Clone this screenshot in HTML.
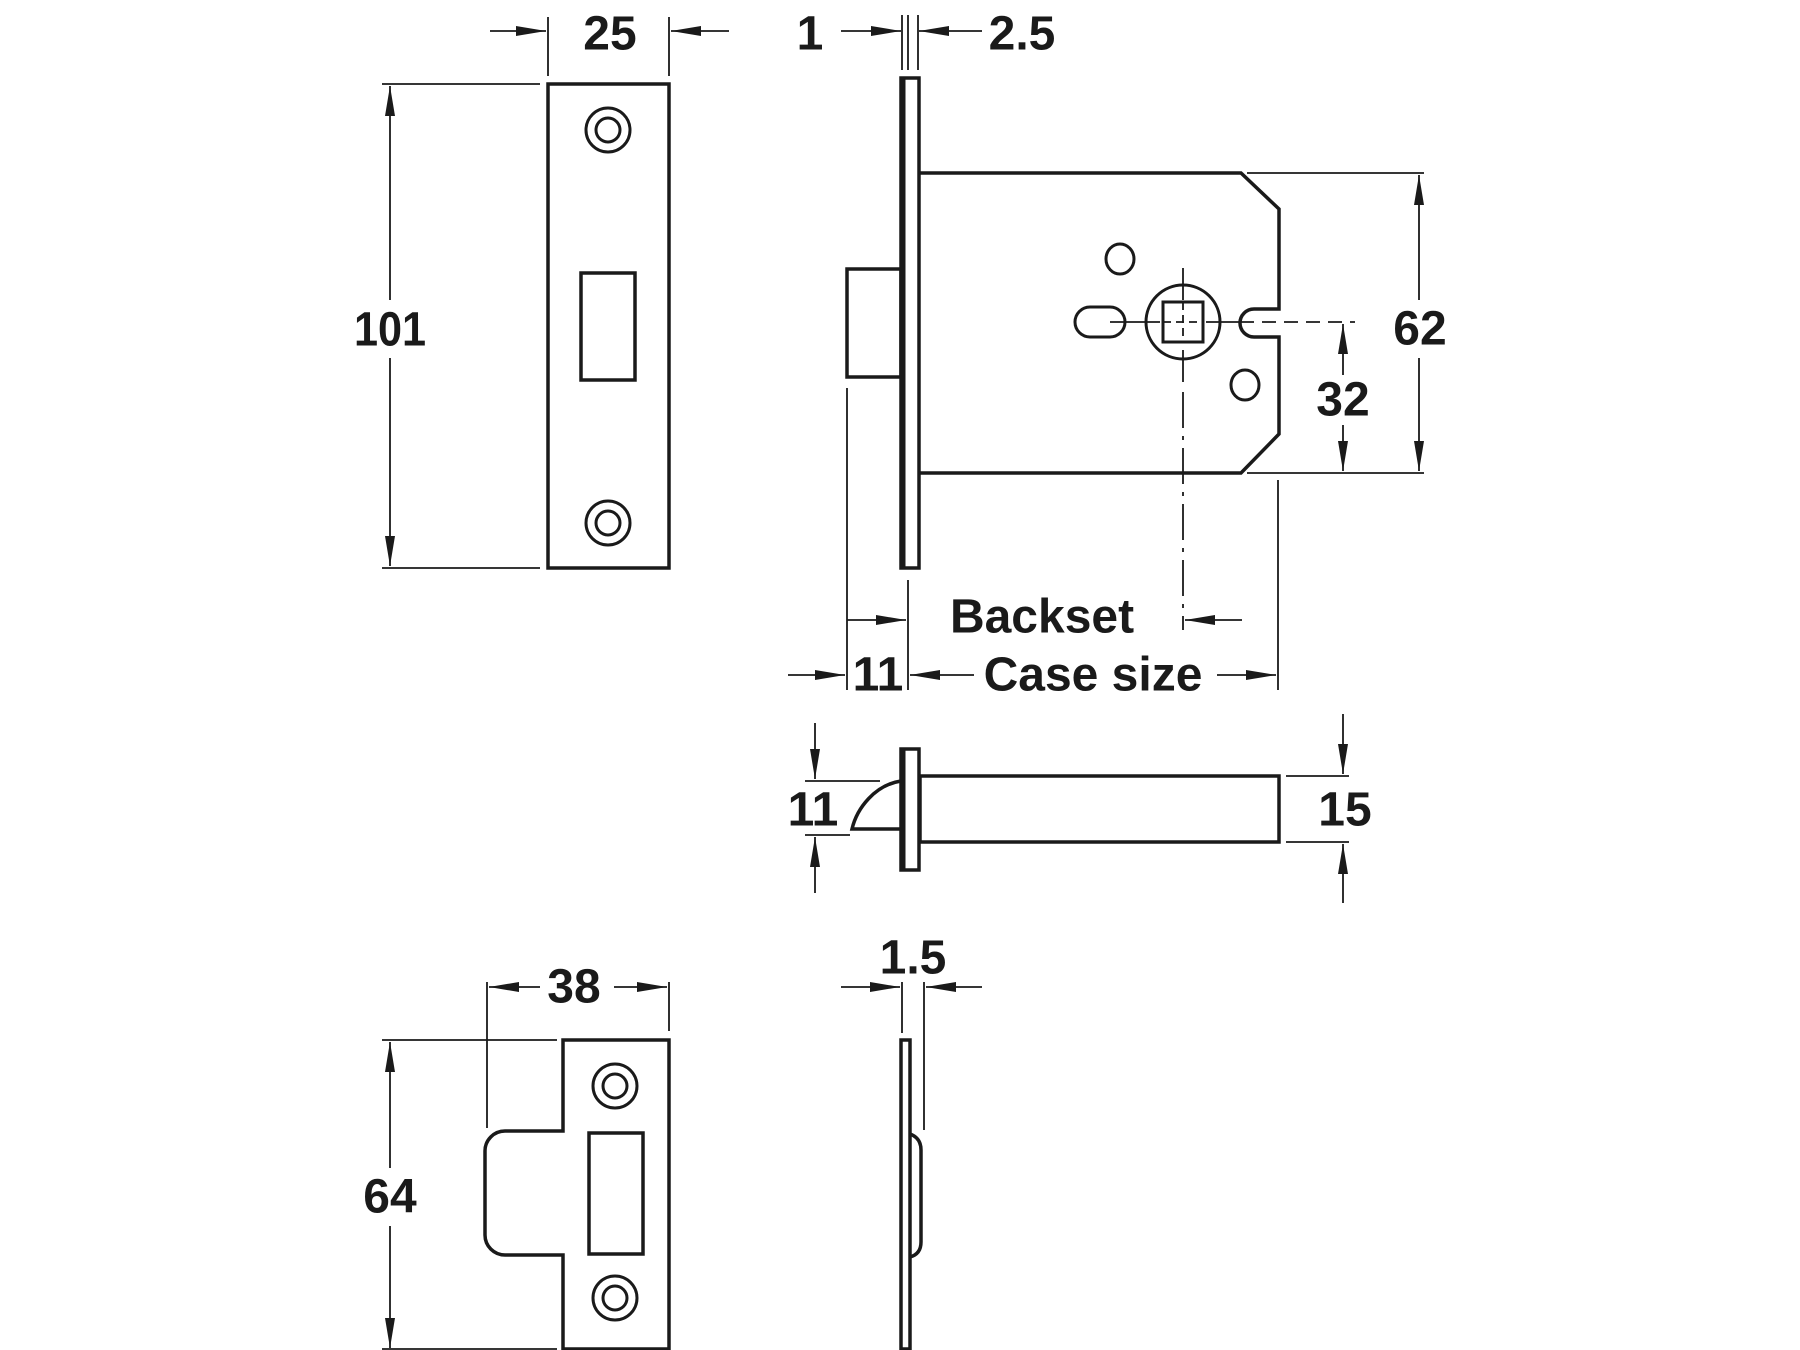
<!DOCTYPE html>
<html><head><meta charset="utf-8"><style>
html,body{margin:0;padding:0;background:#fff;}
svg{display:block;}
text{font-family:"Liberation Sans",Arial,sans-serif;font-weight:bold;fill:#1a1a1a;}
</style></head><body>
<svg width="1800" height="1350" viewBox="0 0 1800 1350" xmlns="http://www.w3.org/2000/svg">
<defs>
<marker id="a" markerUnits="userSpaceOnUse" markerWidth="32" markerHeight="12" refX="30" refY="5" orient="auto">
<path d="M0,0 L30,5 L0,10 z" fill="#1a1a1a"/>
</marker>
</defs>
<g fill="none" stroke="#1a1a1a" stroke-width="3.5" stroke-linejoin="miter">
<!-- strike plate 1 -->
<rect x="548" y="84" width="121" height="484"/>
<rect x="581" y="273" width="54" height="107"/>
<!-- faceplate side -->
<rect x="901" y="78" width="18" height="490"/>
<line x1="903" y1="78" x2="903" y2="568" stroke-width="5"/>
<!-- bolt -->
<rect x="847" y="269" width="54" height="108"/>
<!-- case -->
<path d="M920,173 H1241 L1279,209 V309 H1254 A14,14 0 0 0 1254,337 H1279 V434 L1241,473 H920"/>
<!-- latch -->
<rect x="901" y="749" width="18" height="121"/>
<line x1="903" y1="749" x2="903" y2="870" stroke-width="5"/>
<rect x="920" y="776" width="359" height="66"/>
<path d="M901,781 C875,785 857,808 852,829 H901"/>
<!-- strike plate 2 -->
<path d="M563,1040 H669 V1349 H563 V1255 H505 A20,20 0 0 1 485,1235 V1151 A20,20 0 0 1 505,1131 H563 Z"/>
<rect x="589" y="1133" width="54" height="121"/>
<!-- side plate 2 -->
<rect x="901" y="1040" width="9" height="309"/>
<path d="M910,1134 Q921,1138 921,1150 V1242 Q921,1254 910,1257"/>
</g>
<g fill="none" stroke="#1a1a1a" stroke-width="3">
<circle cx="608" cy="130" r="22"/><circle cx="608" cy="130" r="12"/>
<circle cx="608" cy="523" r="22"/><circle cx="608" cy="523" r="12"/>
<circle cx="615" cy="1086" r="22"/><circle cx="615" cy="1086" r="12"/>
<circle cx="615" cy="1298" r="22"/><circle cx="615" cy="1298" r="12"/>
<circle cx="1183" cy="322" r="37"/>
<rect x="1163" y="302" width="40" height="40"/>
<rect x="1075" y="307" width="50" height="30" rx="15"/>
<ellipse cx="1120" cy="259" rx="14" ry="15"/>
<ellipse cx="1245" cy="385" rx="14" ry="15"/>
</g>
<g stroke="#1a1a1a" stroke-width="1.8" fill="none">
<!-- center lines -->
<line x1="1110" y1="322" x2="1160" y2="322"/>
<line x1="1206" y1="322" x2="1240" y2="322"/>
<line x1="1163" y1="322" x2="1203" y2="322" stroke-dasharray="8,5"/>
<line x1="1240" y1="322" x2="1355" y2="322" stroke-dasharray="14,8"/>
<line x1="1183" y1="268" x2="1183" y2="300"/>
<line x1="1183" y1="302" x2="1183" y2="342" stroke-dasharray="8,5"/>
<line x1="1183" y1="350" x2="1183" y2="382"/>
<line x1="1183" y1="392" x2="1183" y2="630" stroke-dasharray="36,8,4,8"/>
<!-- 101 -->
<line x1="382" y1="84" x2="540" y2="84"/>
<line x1="382" y1="568" x2="540" y2="568"/>
<line x1="390" y1="300" x2="390" y2="86" marker-end="url(#a)"/>
<line x1="390" y1="358" x2="390" y2="566" marker-end="url(#a)"/>
<!-- 25 -->
<line x1="548" y1="17" x2="548" y2="76"/>
<line x1="669" y1="17" x2="669" y2="76"/>
<line x1="490" y1="31" x2="546" y2="31" marker-end="url(#a)"/>
<line x1="729" y1="31" x2="671" y2="31" marker-end="url(#a)"/>
<!-- 1 / 2.5 -->
<line x1="902" y1="15" x2="902" y2="70"/>
<line x1="908" y1="15" x2="908" y2="70"/>
<line x1="918" y1="15" x2="918" y2="70"/>
<line x1="841" y1="31" x2="901" y2="31" marker-end="url(#a)"/>
<line x1="982" y1="31" x2="919" y2="31" marker-end="url(#a)"/>
<!-- 62 -->
<line x1="1247" y1="173" x2="1424" y2="173"/>
<line x1="1247" y1="473" x2="1424" y2="473"/>
<line x1="1419" y1="300" x2="1419" y2="175" marker-end="url(#a)"/>
<line x1="1419" y1="358" x2="1419" y2="471" marker-end="url(#a)"/>
<!-- 32 -->
<line x1="1343" y1="375" x2="1343" y2="324" marker-end="url(#a)"/>
<line x1="1343" y1="425" x2="1343" y2="471" marker-end="url(#a)"/>
<!-- extensions -->
<line x1="1278" y1="480" x2="1278" y2="690"/>
<line x1="847" y1="388" x2="847" y2="690"/>
<line x1="908" y1="580" x2="908" y2="690"/>
<!-- backset -->
<line x1="847" y1="620" x2="906" y2="620" marker-end="url(#a)"/>
<line x1="1242" y1="620" x2="1185" y2="620" marker-end="url(#a)"/>
<!-- case size row -->
<line x1="788" y1="675" x2="845" y2="675" marker-end="url(#a)"/>
<line x1="974" y1="675" x2="910" y2="675" marker-end="url(#a)"/>
<line x1="1217" y1="675" x2="1276" y2="675" marker-end="url(#a)"/>
<!-- latch 11 -->
<line x1="805" y1="781" x2="880" y2="781"/>
<line x1="805" y1="835" x2="850" y2="835"/>
<line x1="815" y1="723" x2="815" y2="779" marker-end="url(#a)"/>
<line x1="815" y1="893" x2="815" y2="837" marker-end="url(#a)"/>
<!-- 15 -->
<line x1="1286" y1="776" x2="1349" y2="776"/>
<line x1="1286" y1="842" x2="1349" y2="842"/>
<line x1="1343" y1="714" x2="1343" y2="774" marker-end="url(#a)"/>
<line x1="1343" y1="903" x2="1343" y2="844" marker-end="url(#a)"/>
<!-- 38 -->
<line x1="487" y1="982" x2="487" y2="1128"/>
<line x1="669" y1="982" x2="669" y2="1031"/>
<line x1="540" y1="987" x2="489" y2="987" marker-end="url(#a)"/>
<line x1="614" y1="987" x2="667" y2="987" marker-end="url(#a)"/>
<!-- 64 -->
<line x1="382" y1="1040" x2="557" y2="1040"/>
<line x1="382" y1="1349" x2="557" y2="1349"/>
<line x1="390" y1="1168" x2="390" y2="1042" marker-end="url(#a)"/>
<line x1="390" y1="1226" x2="390" y2="1348" marker-end="url(#a)"/>
<!-- 1.5 -->
<line x1="902" y1="982" x2="902" y2="1033"/>
<line x1="924" y1="982" x2="924" y2="1130"/>
<line x1="841" y1="987" x2="900" y2="987" marker-end="url(#a)"/>
<line x1="982" y1="987" x2="926" y2="987" marker-end="url(#a)"/>
</g>
<g font-size="48" text-anchor="middle" dominant-baseline="central">
<text x="390" y="329" transform="translate(390 0) scale(0.9 1) translate(-390 0)">101</text>
<text x="610" y="34">25</text>
<text x="810" y="34">1</text>
<text x="1022" y="34">2.5</text>
<text x="1420" y="329">62</text>
<text x="1343" y="400">32</text>
<text x="1042" y="617">Backset</text>
<text x="878" y="675">11</text>
<text x="1093" y="675">Case size</text>
<text x="813" y="810">11</text>
<text x="1345" y="810">15</text>
<text x="574" y="987">38</text>
<text x="390" y="1197">64</text>
<text x="913" y="958">1.5</text>
</g>
</svg>
</body></html>
